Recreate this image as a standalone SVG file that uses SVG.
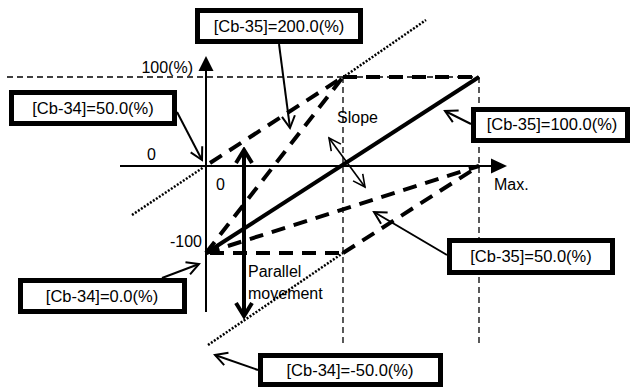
<svg xmlns="http://www.w3.org/2000/svg" width="634" height="387" viewBox="0 0 634 387">
<style>
text{font-family:"Liberation Sans",Arial,sans-serif;font-size:16px;fill:#000}
.lbl{font-size:16.5px;text-anchor:middle}
.box{fill:#fff;stroke:#000;stroke-width:5}
.axis{stroke:#000;stroke-width:2;fill:none}
.thin-dash{stroke:#000;stroke-width:1.3;stroke-dasharray:6 4;fill:none}
.thick-dash{stroke:#000;stroke-width:4;stroke-dasharray:14 9;fill:none}
.dot{stroke:#000;stroke-width:2.5;stroke-dasharray:2 1.6;fill:none}
.solid{stroke:#000;stroke-width:4;fill:none}
.call{stroke:#000;stroke-width:2;fill:none;marker-end:url(#open)}
</style>
<defs>
<marker id="open" markerUnits="userSpaceOnUse" viewBox="0 0 16 16" markerWidth="16" markerHeight="16" refX="14" refY="8" orient="auto">
<path d="M2,1.5 L14,8 L2,14.5" fill="none" stroke="#000" stroke-width="2"/>
</marker>
<marker id="openS" markerUnits="userSpaceOnUse" viewBox="0 0 16 16" markerWidth="16" markerHeight="16" refX="14" refY="8" orient="auto-start-reverse">
<path d="M2,2 L14,8 L2,14" fill="none" stroke="#000" stroke-width="1.6"/>
</marker>
<marker id="openB" markerUnits="userSpaceOnUse" viewBox="0 0 20 20" markerWidth="20" markerHeight="20" refX="17" refY="10" orient="auto-start-reverse">
<path d="M4,2 L17,10 L4,18" fill="none" stroke="#000" stroke-width="4"/>
</marker>
</defs>

<g id="grid">
<line class="thin-dash" x1="7" y1="77" x2="479" y2="77"/>
<line class="thin-dash" x1="343" y1="77" x2="343" y2="345"/>
<line class="thin-dash" x1="479" y1="77" x2="479" y2="345"/>
</g>

<g id="axes">
<line class="axis" x1="206" y1="70" x2="206" y2="312"/>
<polygon points="206,56 198.5,71 213.5,71" fill="#000"/>
<line class="axis" x1="120" y1="166" x2="492" y2="166"/>
<polygon points="507,166 491,158.5 491,173.5" fill="#000"/>
<text x="193" y="73" text-anchor="end">100(%)</text>
<text x="147" y="160">0</text>
<text x="216" y="190">0</text>
<text x="202" y="247" text-anchor="end">-100</text>
<text x="494" y="190">Max.</text>
<text x="337" y="123">Slope</text>
<text x="248" y="277">Parallel</text>
<text x="248" y="299">movement</text>
</g>

<g id="curves">
<line class="dot" x1="132" y1="215" x2="204" y2="167"/>
<line class="dot" x1="345" y1="76" x2="426" y2="20"/>
<line class="dot" x1="208" y1="345" x2="343" y2="253"/>
<line class="solid" x1="206" y1="253" x2="479" y2="77"/>
<line class="thick-dash" x1="210" y1="163" x2="343" y2="77"/>
<line class="thick-dash" x1="206" y1="253" x2="343" y2="77"/>
<line class="thick-dash" x1="206" y1="253" x2="479" y2="166"/>
<line class="thick-dash" x1="343" y1="253" x2="479" y2="166"/>
<line class="thick-dash" x1="210" y1="253" x2="343" y2="253"/>
<line class="thick-dash" x1="343" y1="77" x2="479" y2="77"/>
</g>

<g id="connectors">
<line x1="244" y1="150" x2="244" y2="316" stroke="#000" stroke-width="4" marker-start="url(#openB)" marker-end="url(#openB)"/>
<line x1="329" y1="138" x2="365" y2="187" stroke="#000" stroke-width="1.6" marker-start="url(#openS)" marker-end="url(#openS)"/>
<line class="call" x1="279" y1="44" x2="290" y2="128"/>
<line class="call" x1="177" y1="112" x2="202" y2="160"/>
<line class="call" x1="471" y1="124" x2="445" y2="111"/>
<line class="call" x1="447" y1="255" x2="374" y2="212"/>
<line class="call" x1="162" y1="278" x2="199" y2="264"/>
<line class="call" x1="258" y1="370" x2="215" y2="355"/>
</g>

<g id="box-cb35-200">
<rect class="box" x="197.5" y="10.5" width="163" height="31"/>
<text class="lbl" x="279" y="32">[Cb-35]=200.0(%)</text>
</g>
<g id="box-cb34-50">
<rect class="box" x="11.5" y="92.5" width="163" height="31"/>
<text class="lbl" x="93" y="114">[Cb-34]=50.0(%)</text>
</g>
<g id="box-cb35-100">
<rect class="box" x="473.5" y="109.5" width="154" height="31"/>
<text class="lbl" x="552" y="130">[Cb-35]=100.0(%)</text>
</g>
<g id="box-cb35-50">
<rect class="box" x="449.5" y="240.5" width="163" height="32"/>
<text class="lbl" x="531" y="262">[Cb-35]=50.0(%)</text>
</g>
<g id="box-cb34-0">
<rect class="box" x="20.5" y="280.5" width="164" height="31"/>
<text class="lbl" x="102" y="302">[Cb-34]=0.0(%)</text>
</g>
<g id="box-cb34-m50">
<rect class="box" x="260.5" y="355.5" width="180" height="29"/>
<text class="lbl" x="350" y="376">[Cb-34]=-50.0(%)</text>
</g>
</svg>
